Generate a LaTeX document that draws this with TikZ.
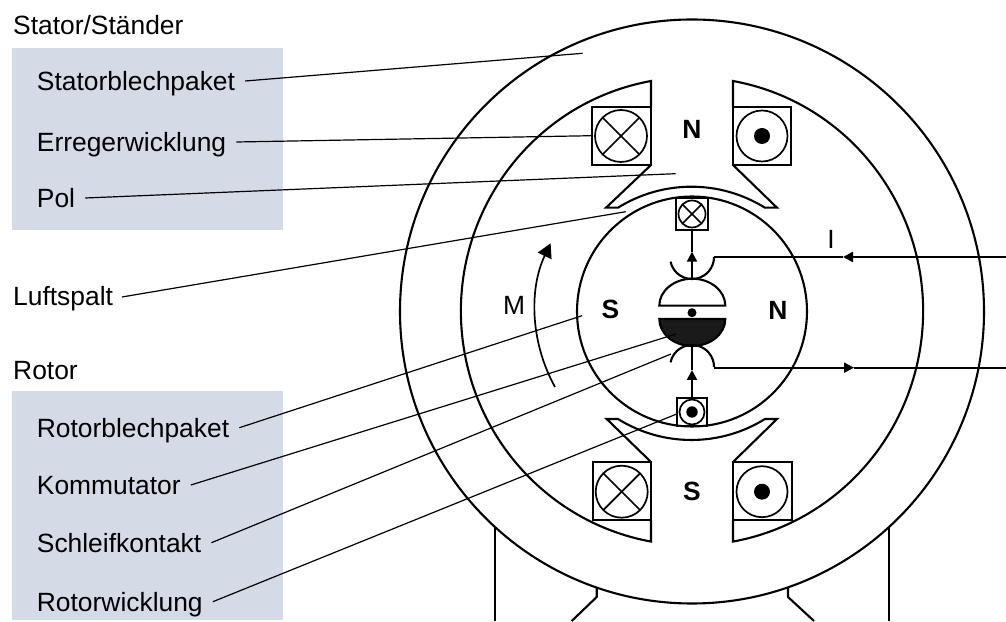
\documentclass[tikz,border=0pt]{standalone}
\usepackage{fontspec}
\setmainfont{Liberation Sans}
\usetikzlibrary{arrows.meta}
\definecolor{panelblue}{HTML}{D5DBE6}
\definecolor{brushblack}{HTML}{1A1A1A}
\tikzset{
  part/.style={line width=2.1pt},
  thinpart/.style={line width=1.7pt},
  leader/.style={line width=1.2pt},
  flow/.style={-{Triangle[length=10pt,width=10pt]},line width=2.1pt},
  lbl/.style={anchor=base west,inner xsep=10pt,inner ysep=0pt,text height=20pt,text depth=0pt,font=\fontsize{26.4}{30}\selectfont},
  head/.style={anchor=base west,inner sep=0pt,font=\fontsize{26.4}{30}\selectfont},
  pole/.style={inner sep=0pt,font=\fontsize{26.4}{30}\selectfont\bfseries},
  sign/.style={inner sep=0pt,font=\fontsize{26.4}{30}\selectfont}
}
\begin{document}
\begin{tikzpicture}[x=1pt,y=1pt]
\useasboundingbox (0,0) rectangle (1006,621);

\fill[panelblue] (12,391) rectangle (283,573);
\fill[panelblue] (12,1) rectangle (283,230);

% housing and feet
\draw[part] (692,309.5) circle [radius=292];
\draw[part] (495,94) -- (495,0);
\draw[part] (889,94) -- (889,0);
\draw[part] (596.7,34) -- (596.7,24) -- (571.7,0);
\draw[part] (788,34) -- (788,24) -- (814,0);

% stator bore
\draw[part] (651,514.3) -- (651,540) arc[start angle=100.2,end angle=259.8,x radius=231,y radius=230.3*1.016] -- (651,101);
\draw[part] (733,514.3) -- (733,540) arc[start angle=79.8,end angle=-79.8,x radius=231,y radius=230.3*1.016] -- (733,101);

% pole shoes
\draw[part] (651,456) -- (606,413.3) -- (618,413.3) arc[start angle=121.9,end angle=58.1,radius=139] -- (777,413.3) -- (733,456);
\draw[part] (651,159) -- (606.7,202) -- (618,202) arc[start angle=-121.9,end angle=-58.1,radius=139] -- (777,202) -- (733,159);

% field windings
\draw[part] (592,514.3) rectangle (651,456);
\draw[part] (733,514.3) rectangle (790.7,456);
\draw[part] (592.7,159) rectangle (651,101);
\draw[part] (733,159) rectangle (792,101);
\draw[thinpart] (621,485) circle [radius=26];
\draw[thinpart] (621,485)+(45:26) -- +(225:26);
\draw[thinpart] (621,485)+(135:26) -- +(315:26);
\draw[thinpart] (621.7,129.3) circle [radius=26];
\draw[thinpart] (621.7,129.3)+(45:26) -- +(225:26);
\draw[thinpart] (621.7,129.3)+(135:26) -- +(315:26);
\draw[thinpart] (762,485) circle [radius=25.5];
\fill (762,485) circle [radius=8];
\draw[thinpart] (762,129.3) circle [radius=25.5];
\fill (762,129.3) circle [radius=8];

% rotor
\draw[part] (692,309.5) circle [radius=115];
\draw[part] (676,423) rectangle (708,391);
\draw[thinpart] (692,407) circle [radius=13.5];
\draw[thinpart] (692,407)+(45:13.5) -- +(225:13.5);
\draw[thinpart] (692,407)+(135:13.5) -- +(315:13.5);
\draw[part] (676.7,223.3) rectangle (707,195);
\draw[thinpart] (692,209) circle [radius=12.5];
\fill (692,209) circle [radius=5.7];

% commutator
\draw[part] (659.3,315.3) arc[start angle=180,end angle=0,x radius=33,y radius=27] -- cycle;
\draw[part,fill=brushblack] (659.3,302) arc[start angle=180,end angle=360,x radius=33,y radius=27] -- cycle;
\fill (692,308.3) circle [radius=4.5];

% contacts and current path
\coordinate (brushupL) at (670.5,359.4);
\coordinate (brushupR) at (714,364);
\coordinate (brushdnL) at (670.5,258.6);
\coordinate (brushdnR) at (714,253.3);
\coordinate (inWire) at (1006,364);
\coordinate (inTip) at (843,364);
\coordinate (outWire) at (1006,253.3);
\coordinate (outTip) at (854,253.3);
\coordinate (armTop) at (692,342);
\coordinate (armTopTip) at (692,369.3);
\coordinate (slotTop) at (692,391);
\coordinate (armBot) at (692,275);
\coordinate (armBotTip) at (692,251);
\coordinate (slotBot) at (692,223.3);
\draw[part] (brushupL) arc[start angle=192,end angle=360,radius=22];
\draw[part] (brushdnL) arc[start angle=168,end angle=0,radius=22];
\draw[flow] (inWire) -- (inTip);
\draw[part] (inTip) -- (brushupR);
\draw[flow] (brushdnR) -- (outTip);
\draw[part] (outTip) -- (outWire);
\draw[flow] (armTop) -- (armTopTip);
\draw[part] (armTopTip) -- (slotTop);
\draw[flow] (slotBot) -- (armBotTip);
\draw[part] (armBotTip) -- (armBot);

% torque
\draw[line width=1.7pt,-{Triangle[length=14pt,width=15pt]}] (555,234) arc[start angle=209,end angle=154.5,radius=157];

\node[pole] (poleN) at (692,492) {N};
\node[pole] (poleS) at (692,129.3) {S};
\node[pole] (rotorS) at (610.5,311.5) {S};
\node[pole] (rotorN) at (778,311) {N};
\node[sign] (signM) at (514,316) {M};
\node[sign] (signI) at (831,381.7) {I};

\node[head] (headStator) at (13,586) {Stator/Ständer};
\node[head] (headRotor) at (13,241) {Rotor};
\node[head] (headLuft) at (13,315) {Luftspalt};

\node[lbl] (lblStatorblech) at (26.7,530) {Statorblechpaket};
\node[lbl] (lblErreger) at (26.7,469) {Erregerwicklung};
\node[lbl] (lblPol) at (26.7,413) {Pol};
\node[lbl] (lblRotorblech) at (26.7,183.3) {Rotorblechpaket};
\node[lbl] (lblKommutator) at (26.7,126) {Kommutator};
\node[lbl] (lblSchleif) at (26.7,68.3) {Schleifkontakt};
\node[lbl] (lblWicklung) at (26.7,9.3) {Rotorwicklung};

\coordinate (endStatorblech) at (582.7,567.7);
\coordinate (endErreger) at (592,485.3);
\coordinate (endPol) at (675.7,447.3);
\coordinate (startLuft) at (122,324);
\coordinate (endLuft) at (625.7,409.3);
\coordinate (endRotorblech) at (582,305.3);
\coordinate (endKommutator) at (676,287);
\coordinate (endSchleif) at (671,267);
\coordinate (endWicklung) at (676.7,207);

\draw[leader] (lblStatorblech.east) -- (endStatorblech);
\draw[leader] (lblErreger.east) -- (endErreger);
\draw[leader] (lblPol.east) -- (endPol);
\draw[leader] (startLuft) -- (endLuft);
\draw[leader] (lblRotorblech.east) -- (endRotorblech);
\draw[leader] (lblKommutator.east) -- (endKommutator);
\draw[leader] (lblSchleif.east) -- (endSchleif);
\draw[leader] (lblWicklung.east) -- (endWicklung);

\end{tikzpicture}
\end{document}
